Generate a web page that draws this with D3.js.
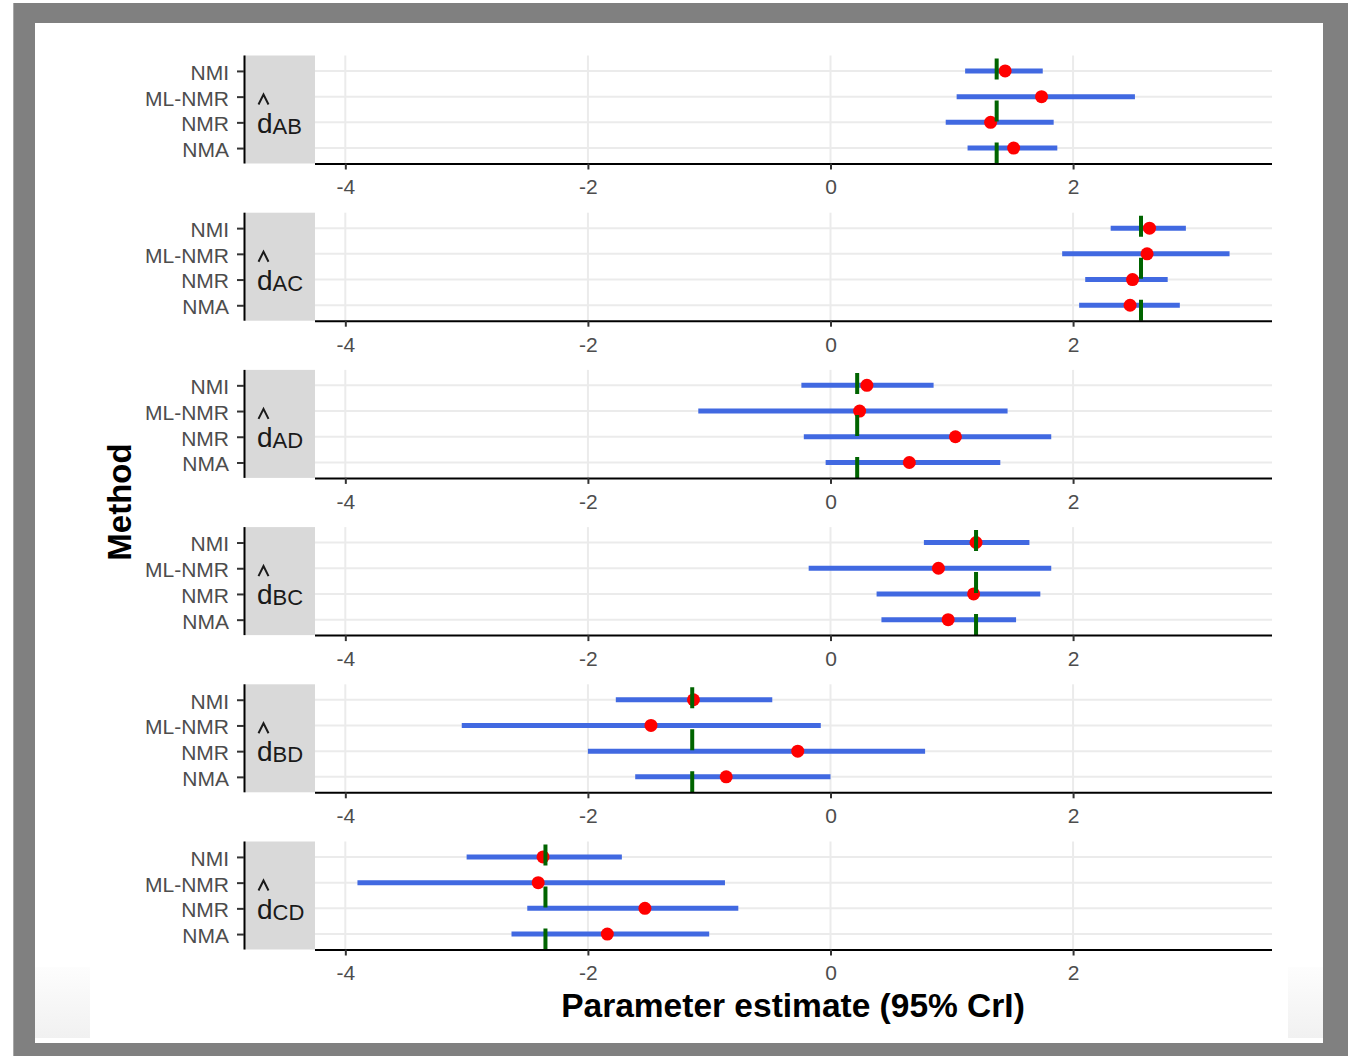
<!DOCTYPE html>
<html>
<head>
<meta charset="utf-8">
<script src="https://cdn.jsdelivr.net/npm/d3@7"></script>
<style>
  body { margin: 0; background: #fff; }
  svg { display: block; font-family: "Liberation Sans", Arial, sans-serif; }
</style>
</head>
<body>
<div id="wrapper"></div>
<script>
// rows within each panel, top to bottom
const methods = ["NMI", "ML-NMR", "NMR", "NMA"];
const params = ["AB", "AC", "AD", "BC", "BD", "CD"];
const trueValues = [1.37, 2.56, 0.22, 1.20, -1.14, -2.35];
const xTicks = [-4, -2, 0, 2];

// one row per parameter, values in the order of methods
const lowerCrI = [
  [1.11, 1.04, 0.95, 1.13],
  [2.31, 1.91, 2.10, 2.05],
  [-0.24, -1.09, -0.22, -0.04],
  [0.77, -0.18, 0.38, 0.42],
  [-1.77, -3.04, -2.00, -1.61],
  [-3.00, -3.90, -2.50, -2.63]
];
const pointEst = [
  [1.44, 1.74, 1.32, 1.51],
  [2.63, 2.61, 2.49, 2.47],
  [0.30, 0.24, 1.03, 0.65],
  [1.20, 0.89, 1.18, 0.97],
  [-1.13, -1.48, -0.27, -0.86],
  [-2.37, -2.41, -1.53, -1.84]
];
const upperCrI = [
  [1.75, 2.51, 1.84, 1.87],
  [2.93, 3.29, 2.78, 2.88],
  [0.85, 1.46, 1.82, 1.40],
  [1.64, 1.82, 1.73, 1.53],
  [-0.48, -0.08, 0.78, 0.00],
  [-1.72, -0.87, -0.76, -1.00]
];

function drawForest() {
  const width = 1355, height = 1056;

  let dimensions = {
    axisX: 244,
    stripW: 71,
    panelLeft: 315,
    panelRight: 1272,
    firstTop: 55.5,
    panelH: 108,
    panelStep: 157.2,
  }

  const svg = d3.select("#wrapper")
    .append("svg")
    .attr("width", width)
    .attr("height", height);

  // picture frame
  svg.append("rect").attr("x", 0).attr("y", 0).attr("width", width).attr("height", height).attr("fill", "#fff");
  svg.append("rect").attr("x", 13).attr("y", 3).attr("width", 1335).attr("height", 1053).attr("fill", "#808080");
  svg.append("line").attr("x1", 13.5).attr("x2", 13.5).attr("y1", 3).attr("y2", height)
    .attr("stroke", "#a8a8a8").attr("stroke-width", 1);
  svg.append("rect").attr("x", 35).attr("y", 23).attr("width", 1288).attr("height", 1020).attr("fill", "#fff");

  const grad = svg.append("defs").append("linearGradient")
    .attr("id", "shade").attr("x1", 0).attr("x2", 0).attr("y1", 0).attr("y2", 1);
  grad.append("stop").attr("offset", "0%").attr("stop-color", "#fdfdfd");
  grad.append("stop").attr("offset", "100%").attr("stop-color", "#f1f1f1");
  svg.append("rect").attr("x", 35).attr("y", 967).attr("width", 55).attr("height", 71).attr("fill", "url(#shade)");
  svg.append("rect").attr("x", 1288).attr("y", 967).attr("width", 35).attr("height", 71).attr("fill", "url(#shade)");

  const xScale = d3.scaleLinear()
    .domain([-4.25, 3.64])
    .range([dimensions.panelLeft, dimensions.panelRight]);

  params.forEach((p, i) => {
    const top = dimensions.firstTop + i * dimensions.panelStep;
    const bottom = top + dimensions.panelH;

    const yScale = d3.scalePoint()
      .domain(methods)
      .range([top, bottom])
      .padding(0.6);

    const g = svg.append("g");

    // grid
    g.selectAll(".hgrid").data(methods).join("line")
      .attr("x1", dimensions.panelLeft).attr("x2", dimensions.panelRight)
      .attr("y1", d => yScale(d)).attr("y2", d => yScale(d))
      .attr("stroke", "#ebebeb").attr("stroke-width", 2);
    g.selectAll(".vgrid").data(xTicks).join("line")
      .attr("x1", d => xScale(d)).attr("x2", d => xScale(d))
      .attr("y1", top).attr("y2", bottom)
      .attr("stroke", "#ebebeb").attr("stroke-width", 2);

    // strip on the left
    g.append("rect")
      .attr("x", dimensions.axisX).attr("y", top)
      .attr("width", dimensions.stripW).attr("height", dimensions.panelH)
      .attr("fill", "#d9d9d9");
    const mid = (top + bottom) / 2;
    // hat accent over the d
    g.append("path")
      .attr("d", `M258.5,${mid - 5}L263.5,${mid - 15}L268.5,${mid - 5}`)
      .attr("fill", "none").attr("stroke", "#1a1a1a").attr("stroke-width", 2);
    const lab = g.append("text")
      .attr("x", 257).attr("y", mid + 23)
      .attr("font-size", 28).attr("fill", "#1a1a1a");
    lab.append("tspan").text("d");
    lab.append("tspan").attr("dy", 1).attr("font-size", 22).text(p);

    // intervals
    g.selectAll(".ci").data(methods).join("line")
      .attr("x1", (d, j) => xScale(lowerCrI[i][j]))
      .attr("x2", (d, j) => xScale(upperCrI[i][j]))
      .attr("y1", d => yScale(d)).attr("y2", d => yScale(d))
      .attr("stroke", "#4169e1").attr("stroke-width", 5);

    g.selectAll(".pt").data(methods).join("circle")
      .attr("cx", (d, j) => xScale(pointEst[i][j]))
      .attr("cy", d => yScale(d))
      .attr("r", 6.5)
      .attr("fill", "#ff0000");

    // true value, dashed from the bottom up
    g.append("line")
      .attr("x1", xScale(trueValues[i])).attr("x2", xScale(trueValues[i]))
      .attr("y1", bottom).attr("y2", top)
      .attr("stroke", "#006400").attr("stroke-width", 4)
      .attr("stroke-dasharray", "21,21");

    // y axis
    const yAxis = g.append("g")
      .attr("transform", `translate(${dimensions.axisX},0)`)
      .call(d3.axisLeft(yScale).tickSize(7).tickPadding(8));
    yAxis.select(".domain").attr("stroke", "#000").attr("stroke-width", 2)
      .attr("d", `M0.5,${top}V${bottom}`);
    yAxis.selectAll(".tick line").attr("stroke", "#333").attr("stroke-width", 2);
    yAxis.selectAll(".tick text")
      .attr("font-size", 21).attr("fill", "#4d4d4d")
      .attr("dy", "0.4em")
      .attr("font-family", "Liberation Sans, Arial, sans-serif");

    // x axis
    const xAxis = g.append("g")
      .attr("transform", `translate(0,${bottom})`)
      .call(d3.axisBottom(xScale).tickValues(xTicks).tickSize(6).tickPadding(10)
        .tickFormat(d3.format("d")));
    xAxis.select(".domain").attr("stroke", "#000").attr("stroke-width", 2)
      .attr("d", `M${dimensions.panelLeft},0.5H${dimensions.panelRight}`);
    xAxis.selectAll(".tick line").attr("stroke", "#333").attr("stroke-width", 2);
    xAxis.selectAll(".tick text")
      .attr("font-size", 21).attr("fill", "#4d4d4d")
      .attr("font-family", "Liberation Sans, Arial, sans-serif")
      .text(d => d < 0 ? "-" + Math.abs(d) : d);
  });

  // axis titles
  svg.append("text")
    .attr("x", 793).attr("y", 1017)
    .attr("text-anchor", "middle")
    .attr("font-size", 33.5).attr("font-weight", "bold").attr("fill", "#000")
    .text("Parameter estimate (95% CrI)");

  svg.append("text")
    .attr("transform", "translate(131,502) rotate(-90)")
    .attr("text-anchor", "middle")
    .attr("font-size", 33).attr("font-weight", "bold").attr("fill", "#000")
    .text("Method");
}

drawForest()
</script>
</body>
</html>
